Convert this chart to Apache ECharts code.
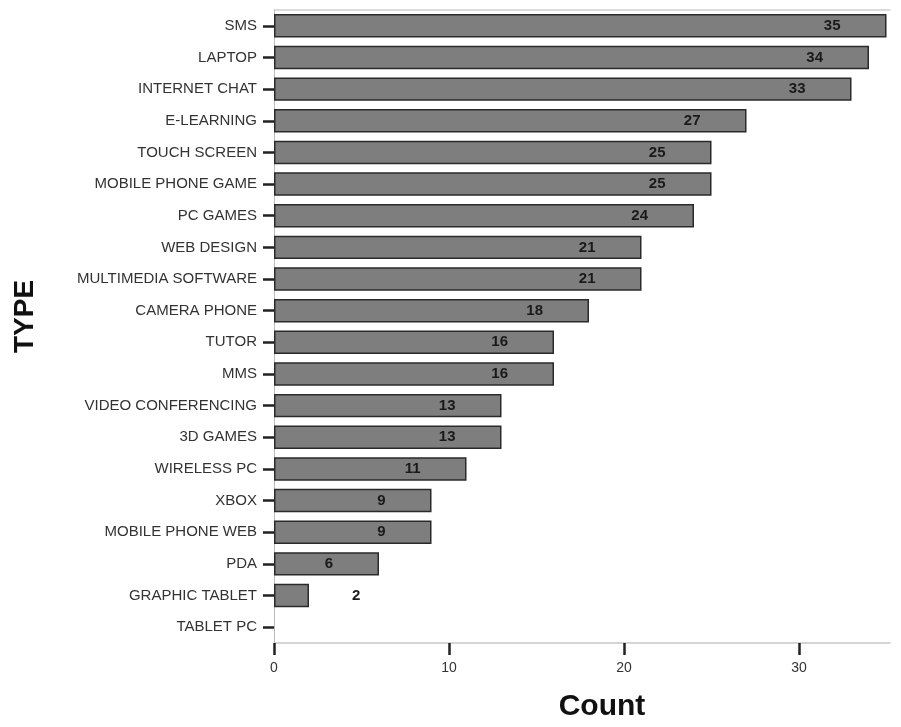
<!DOCTYPE html>
<html>
<head>
<meta charset="utf-8">
<script src="https://cdn.jsdelivr.net/npm/echarts@6/dist/echarts.min.js"></script>
<style>html,body{margin:0;padding:0;background:#fff;}#c{width:901px;height:727px;}</style>
</head>
<body>
<div id="c"></div>
<script>
var categories = ["SMS","LAPTOP","INTERNET CHAT","E-LEARNING","TOUCH SCREEN","MOBILE PHONE GAME","PC GAMES","WEB DESIGN","MULTIMEDIA SOFTWARE","CAMERA PHONE","TUTOR","MMS","VIDEO CONFERENCING","3D GAMES","WIRELESS PC","XBOX","MOBILE PHONE WEB","PDA","GRAPHIC TABLET","TABLET PC"];
var counts = [35,34,33,27,25,25,24,21,21,18,16,16,13,13,11,9,9,6,2,0];
var xTicks = [0,10,20,30];

var chart = echarts.init(document.getElementById('c'), null, {renderer:'canvas'});
var data = counts.map(function(v){
  var item = {value:v};
  if (v === 0) { item.label = {show:false}; item.itemStyle = {borderWidth:0}; }
  else if (v < 4) item.label = {position:'right', distance:43};
  else item.label = {position:'insideRight', distance:46};
  return item;
});
var font = 'Liberation Sans, Arial, sans-serif';
chart.setOption({
  animation:false,
  grid:{left:274, right:11, top:10, bottom:80},
  xAxis:[{
    type:'value', min:0, max:35.2, interval:10,
    axisLine:{show:true, lineStyle:{color:'#c8c8c8', width:1.5}},
    axisTick:{show:true, length:12, lineStyle:{color:'#222', width:2.5}},
    axisLabel:{color:'#333', fontFamily:font, fontSize:14, margin:18, showMaxLabel:false,
      formatter:function(v){return xTicks.indexOf(v)>=0?String(v):'';}},
    splitLine:{show:false},
    name:'Count', nameLocation:'middle', nameGap:49,
    nameTextStyle:{fontFamily:font, fontWeight:'bold', fontSize:30, color:'#111', padding:[0,0,0,40]}
  },{
    type:'value', position:'top', min:0, max:35.2,
    axisLine:{show:true, lineStyle:{color:'#cfcfcf', width:1.5}},
    axisTick:{show:false}, axisLabel:{show:false}, splitLine:{show:false}
  }],
  yAxis:{
    type:'category', data:categories, inverse:true,
    axisLine:{show:true, lineStyle:{color:'#bbb', width:1}},
    axisTick:{show:true, alignWithLabel:true, length:11, lineStyle:{color:'#222', width:2.5}},
    axisLabel:{color:'#333', fontFamily:font, fontSize:15, margin:17},
    name:'TYPE', nameLocation:'middle', nameGap:235, nameRotate:90,
    nameTextStyle:{fontFamily:font, fontWeight:'bold', fontSize:28, color:'#111', padding:[0,0,0,20]}
  },
  series:[{
    type:'bar', data:data, barCategoryGap:'26%',
    itemStyle:{color:'#7e7e7e', borderColor:'#2a2a2a', borderWidth:1.5},
    label:{show:true, color:'#1a1a1a', fontFamily:font, fontWeight:'bold', fontSize:15}
  }]
});
</script>
</body>
</html>
